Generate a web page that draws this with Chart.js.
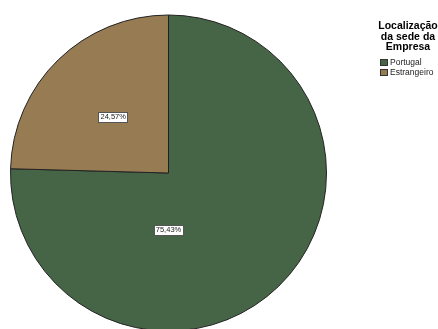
<!DOCTYPE html>
<html>
<head>
<meta charset="utf-8">
<script src="https://cdn.jsdelivr.net/npm/chart.js@4.4.0/dist/chart.umd.min.js"></script>
<style>
  html, body { margin: 0; padding: 0; background: #fff; overflow: hidden; }
  #wrap { position: relative; width: 438px; height: 345px; overflow: hidden; }
  #legend { position: absolute; left: 370px; top: 20px; width: 76px; font-family: "Liberation Sans", Arial, sans-serif; }
  #legend .title { font-weight: bold; font-size: 10.5px; line-height: 10.5px; text-align: center; color: #000; }
  #legend .item { font-size: 8.5px; line-height: 10px; color: #222; margin-left: 10px; white-space: nowrap; }
  #legend .item span { display: inline-block; width: 8px; height: 7px; border: 1px solid #333; box-sizing: border-box; margin-right: 2px; vertical-align: -1px; }
</style>
</head>
<body>
<div id="wrap">
  <canvas id="c" width="438" height="345"></canvas>
  <div id="legend"></div>
</div>
<script>
// Valores
const categories = ["Portugal", "Estrangeiro"];
const percentages = [75.43, 24.57];
const colors = ["#466547", "#977B53"];
const legendTitle = ["Localização", "da sede da", "Empresa"];

// legenda em HTML
const legend = document.getElementById("legend");
legend.innerHTML = '<div class="title">' + legendTitle.join("<br>") + '</div><div style="height:5px"></div>' +
  categories.map((c, i) => '<div class="item"><span style="background:' + colors[i] + '"></span>' + c + '</div>').join("");

// rótulos de percentagem em caixas brancas
const boxLabels = {
  id: "boxLabels",
  afterDatasetsDraw(chart, args, opts) {
    const ctx = chart.ctx;
    const meta = chart.getDatasetMeta(0);
    ctx.save();
    ctx.font = "7.5px 'Liberation Sans', Arial, sans-serif";
    ctx.textAlign = "center";
    ctx.textBaseline = "middle";
    meta.data.forEach((arc, i) => {
      const off = opts.offsets[i];
      const x = arc.x + off[0] * arc.outerRadius;
      const y = arc.y + off[1] * arc.outerRadius;
      const txt = percentages[i].toFixed(2).replace(".", ",") + "%";
      const w = ctx.measureText(txt).width + 4;
      const h = 10;
      ctx.fillStyle = "#fff";
      ctx.fillRect(Math.round(x - w / 2) + 0.5, Math.round(y - h / 2) + 0.5, Math.round(w), h);
      ctx.strokeStyle = "#555";
      ctx.lineWidth = 1;
      ctx.strokeRect(Math.round(x - w / 2) + 0.5, Math.round(y - h / 2) + 0.5, Math.round(w), h);
      ctx.fillStyle = "#222";
      ctx.fillText(txt, x, y + 0.5);
    });
    ctx.restore();
  }
};

new Chart(document.getElementById("c"), {
  type: "pie",
  data: {
    labels: categories,
    datasets: [{
      data: percentages,
      backgroundColor: colors,
      borderColor: "#222",
      borderWidth: 1,
    }]
  },
  options: {
    responsive: false,
    animation: false,
    layout: { padding: { left: 10, top: 14, right: 111, bottom: 13 } },
    plugins: {
      legend: { display: false },
      tooltip: { enabled: false },
      boxLabels: { offsets: [[0, 0.36], [-0.35, -0.355]] }
    }
  },
  plugins: [boxLabels]
});
</script>
</body>
</html>
